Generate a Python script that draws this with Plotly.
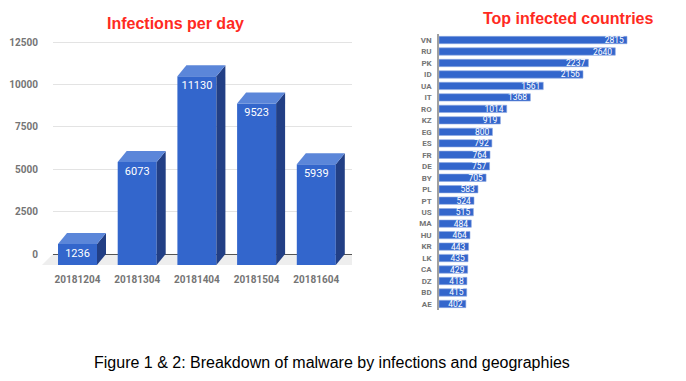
import plotly.graph_objects as go

# ---- data ----
days = ["20181204", "20181304", "20181404", "20181504", "20181604"]
infections = [1236, 6073, 11130, 9523, 5939]

countries = ["VN", "RU", "PK", "ID", "UA", "IT", "RO", "KZ", "EG", "ES", "FR", "DE",
             "BY", "PL", "PT", "US", "MA", "HU", "KR", "LK", "CA", "DZ", "BD", "AE"]
country_counts = [2815, 2640, 2237, 2156, 1561, 1368, 1014, 919, 800, 792, 764, 757,
                  705, 583, 524, 515, 484, 464, 443, 435, 429, 418, 415, 402]

left_yticks = [0, 2500, 5000, 7500, 10000, 12500]

# ---- styles / geometry ----
W, H = 686, 381
BLUE = "#3366cc"
TOP = "#5b86d9"
SIDE = "#223f85"
GREY = "#757575"
RED = "#ff2a22"

# left chart pixel geometry
px_per_cat = 59.7
c0 = 77.5
lx0, lx1 = 53, 352
ly_top, ly_bot = 30, 272
zero_px = 254
px_per_unit = (254 - 42) / 12500.0
xr_lo = (lx0 - c0) / px_per_cat
xr_hi = (lx1 - c0) / px_per_cat
yr_hi = (zero_px - ly_top) / px_per_unit
yr_lo = (zero_px - ly_bot) / px_per_unit
depth_x = 9 / px_per_cat
depth_y = 11 / px_per_unit
bw = 39 / px_per_cat

fig = go.Figure()

xs = list(range(len(days)))

# side & top faces (3D look) built from data values
for i, v in zip(xs, infections):
    xl = i - bw / 2
    xr = i + bw / 2
    fig.add_trace(go.Scatter(
        x=[xr, xr, xr + depth_x, xr + depth_x, xr],
        y=[-depth_y, v - depth_y, v, 0, -depth_y],
        fill="toself", fillcolor=SIDE, mode="lines", line=dict(width=0),
        hoverinfo="skip", showlegend=False, xaxis="x", yaxis="y"))
    fig.add_trace(go.Scatter(
        x=[xl, xr, xr + depth_x, xl + depth_x, xl],
        y=[v - depth_y, v - depth_y, v, v, v - depth_y],
        fill="toself", fillcolor=TOP, mode="lines", line=dict(width=0),
        hoverinfo="skip", showlegend=False, xaxis="x", yaxis="y"))

fig.add_trace(go.Bar(
    x=xs, y=infections, base=[-depth_y] * len(xs), width=bw,
    marker=dict(color=BLUE, line=dict(width=0)),
    text=[str(v) for v in infections], textposition="inside",
    insidetextanchor="end", textangle=0,
    textfont=dict(color="white", size=11, family="Roboto"),
    showlegend=False, xaxis="x", yaxis="y"))

# right chart
fig.add_trace(go.Bar(
    x=country_counts, y=countries, orientation="h", width=0.64,
    marker=dict(color=BLUE, line=dict(color="#8fa9e3", width=0.6)),
    text=[str(v) for v in country_counts], textposition="inside",
    insidetextanchor="end", textangle=0, constraintext="none",
    textfont=dict(color="white", size=8.5, family="Roboto"),
    showlegend=False, xaxis="x2", yaxis="y2"))

rx0, rx1 = 439, 672
r_px_per_unit = (627 - 439) / 2815.0
ry_top, ry_bot = 34.3, 309.7

fig.update_layout(
    width=W, height=H,
    margin=dict(l=0, r=0, t=0, b=0),
    paper_bgcolor="white", plot_bgcolor="rgba(0,0,0,0)",
    bargap=0.3,
    uniformtext=dict(mode=False),
    xaxis=dict(domain=[lx0 / W, lx1 / W], range=[xr_lo, xr_hi],
               tickvals=xs, ticktext=days, showgrid=False, zeroline=False,
               showline=False, ticks="",
               tickfont=dict(family="Roboto", size=10, color=GREY, weight="bold"),
               fixedrange=True),
    yaxis=dict(domain=[1 - ly_bot / H, 1 - ly_top / H], range=[yr_lo, yr_hi],
               tickvals=left_yticks, ticktext=[str(t) for t in left_yticks],
               showgrid=True, gridcolor="#e3e3e3", gridwidth=1.3,
               zeroline=True, zerolinecolor="#555555", zerolinewidth=1,
               ticklabelstandoff=14,
               tickfont=dict(family="Roboto", size=10, color=GREY, weight="bold"),
               showline=False, ticks=""),
    xaxis2=dict(domain=[rx0 / W, rx1 / W], range=[0, (rx1 - rx0) / r_px_per_unit],
                showgrid=False, zeroline=False, showline=False,
                showticklabels=False, ticks="", anchor="y2"),
    yaxis2=dict(domain=[1 - ry_bot / H, 1 - ry_top / H], autorange="reversed",
                type="category", showgrid=False, zeroline=False,
                showline=True, linecolor="#a0a0a0", linewidth=1.5,
                ticks="", ticklabelstandoff=4,
                tickfont=dict(family="Roboto", size=8, color=GREY, weight="bold"),
                anchor="x2"),
    shapes=[
        dict(type="path", xref="paper", yref="y", layer="below",
             path=f"M {42 / W},{-depth_y} L {lx0 / W},0 L {lx1 / W},0 L {lx1 / W},{-depth_y} Z",
             fillcolor="#eeeeee", line=dict(width=0)),
    ],
    annotations=[
        dict(text="<b>Infections per day</b>", x=175 / W, y=1 - 23 / H,
             xref="paper", yref="paper", showarrow=False, xanchor="center", yanchor="middle",
             font=dict(family="Arial, Liberation Sans", size=16, color=RED)),
        dict(text="<b>Top infected countries</b>", x=568 / W, y=1 - 19 / H,
             xref="paper", yref="paper", showarrow=False, xanchor="center", yanchor="middle",
             font=dict(family="Arial, Liberation Sans", size=16, color=RED)),
        dict(text="Figure 1 & 2: Breakdown of malware by infections and geographies",
             x=332 / W, y=1 - 362 / H,
             xref="paper", yref="paper", showarrow=False, xanchor="center", yanchor="middle",
             font=dict(family="Arial, Liberation Sans", size=16, color="black")),
    ],
)

fig.write_html("out.html", config={"displayModeBar": False},
               post_script="document.body.style.margin='0';document.body.style.overflow='hidden';")
